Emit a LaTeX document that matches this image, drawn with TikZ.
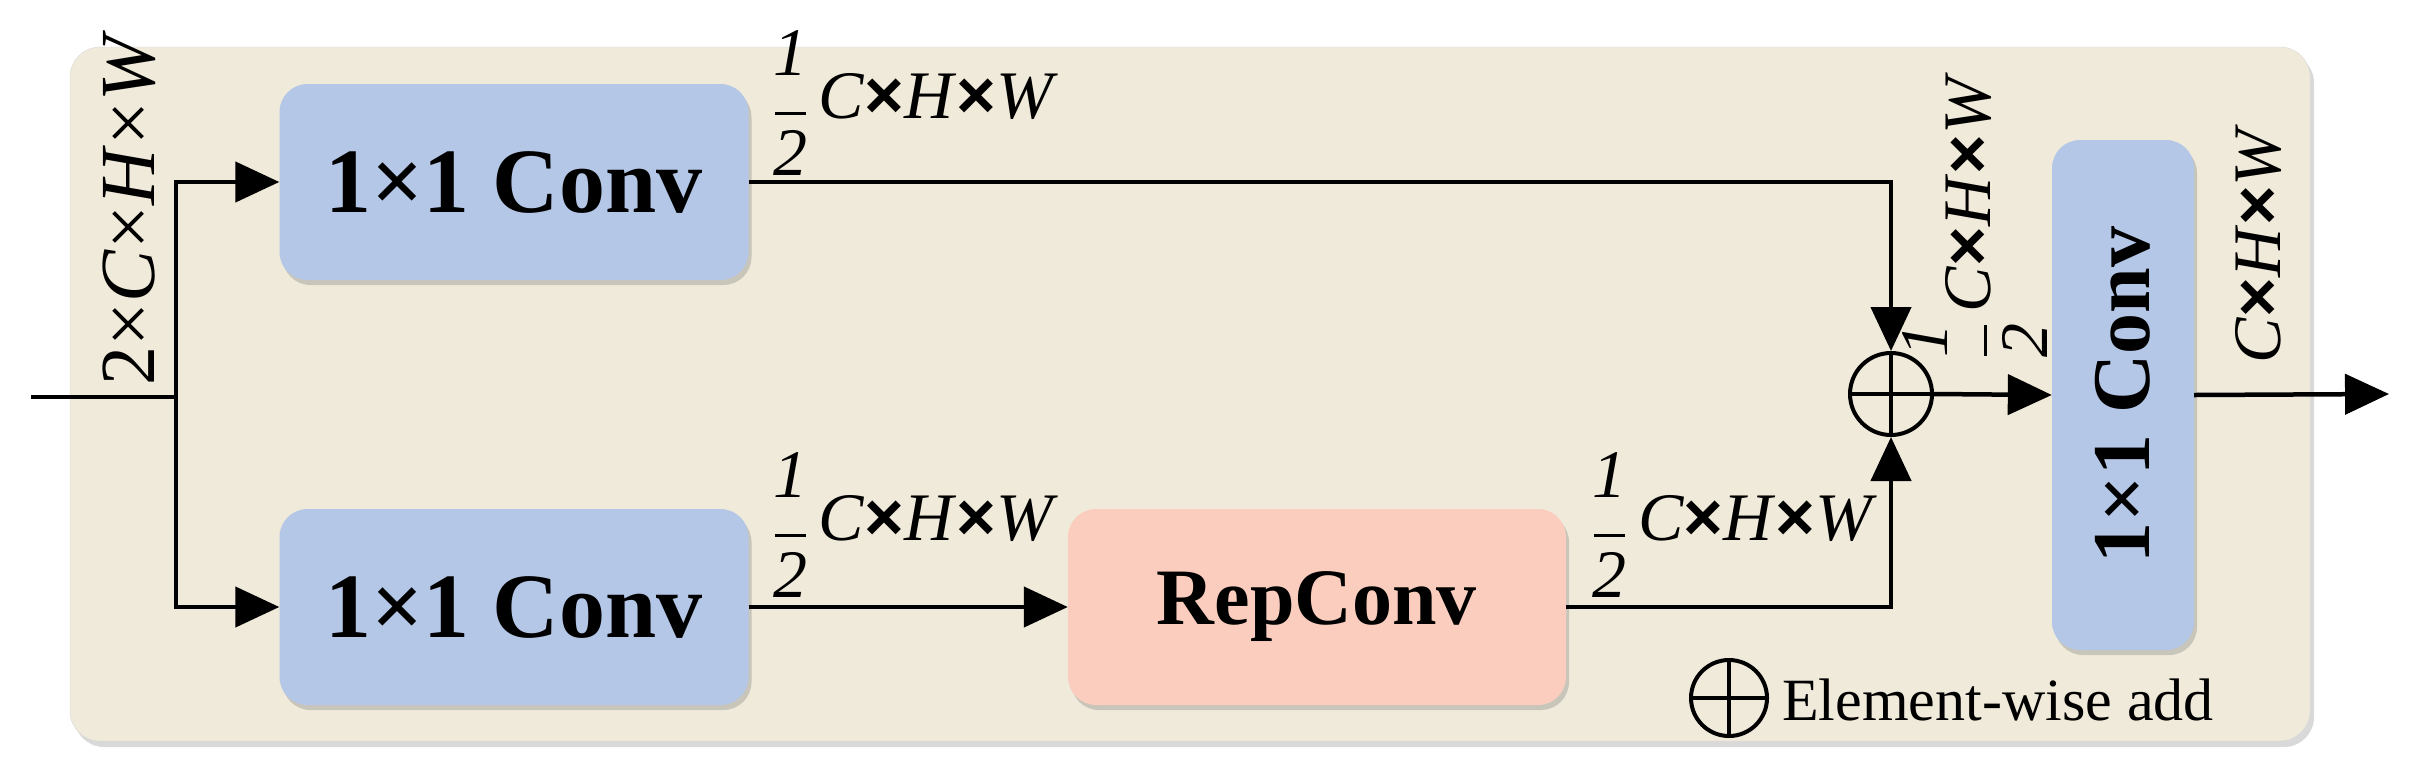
\documentclass[tikz,border=0pt]{standalone}
\usepackage{fontspec}
\setmainfont{Liberation Serif}
\setsansfont{Liberation Sans}
\usetikzlibrary{arrows.meta,shadows}
\newcommand\mytimes{{\sffamily\bfseries ×}}
\newcommand\myhalf{$\vcenter{\hbox{\begin{tabular}{@{}c@{}}\textit{1}\\[-0.42em]\rule{0.45em}{3.5pt}\\[-0.12em]\textit{2}\end{tabular}}}$}
\newcommand\halfchw{\myhalf\,\textit{C}\mytimes\textit{H}\mytimes\textit{W}}
\definecolor{panel}{HTML}{F0EADA}
\definecolor{bluebox}{HTML}{B4C7E7}
\definecolor{pinkbox}{HTML}{FACDBE}
\begin{document}
\begin{tikzpicture}[x=1pt,y=-1pt,
  box/.style={rounded corners=28pt, inner sep=0pt, font=\fontsize{92}{92}\selectfont\bfseries,
    drop shadow={opacity=0.35, shadow xshift=3pt, shadow yshift=-5pt}},
  lbl/.style={inner sep=0pt, font=\fontsize{68}{68}\selectfont},
  arr/.style={line width=4.5pt, -{Triangle[length=44pt,width=40pt]}},
  ln/.style={line width=4.5pt},
  addop/.style={circle, draw, line width=4pt, inner sep=0pt, path picture={
    \draw[line width=4pt] (path picture bounding box.north) -- (path picture bounding box.south)
      (path picture bounding box.west) -- (path picture bounding box.east);}}]
\useasboundingbox (0,0) rectangle (2411,780);
\node[draw=black!15, fill=panel, rounded corners=30pt, minimum width=2240pt, minimum height=694pt,
  drop shadow={opacity=0.3, shadow xshift=4pt, shadow yshift=-6pt}] (panel) at (1190,394) {};
\node[box, fill=bluebox, minimum width=469pt, minimum height=196pt] (c1) at (514,182) {1\texttimes1 Conv};
\node[box, fill=bluebox, minimum width=469pt, minimum height=196pt] (c2) at (514,607) {1\texttimes1 Conv};
\node[box, fill=pinkbox, minimum width=498pt, minimum height=196pt, font=\fontsize{80}{80}\selectfont\bfseries] (rep) at (1317,607) {RepConv};
\node[box, fill=bluebox, minimum width=142pt, minimum height=510pt] (c3) at (2123,395) {};
\node[rotate=90, font=\fontsize{82}{82}\selectfont\bfseries] (c3t) at (2123,395) {1\texttimes1 Conv};
\node[addop, minimum size=82pt] (add) at (1891,394) {};
\coordinate (in) at (31,397);
\coordinate (br) at (176,397);
\coordinate (out) at (2389,394);
\draw[ln] (in) -- (br);
\draw[arr] (br) |- (c1.west);
\draw[arr] (br) |- (c2.west);
\draw[arr] (c1.east) -| (add.north);
\draw[arr] (c2.east) -- (rep.west);
\draw[arr] (rep.east) -| (add.south);
\draw[arr] (add.east) -- (c3.west);
\draw[arr] (c3.east) -- (out);
\node[lbl, rotate=90, font=\fontsize{78}{78}\selectfont] (l0) at (129,208) {2\texttimes\textit{C}\texttimes\textit{H}\texttimes\textit{W}};
\node[lbl] (l1) at (916,112) {\halfchw};
\node[lbl] (l2) at (916,534) {\halfchw};
\node[lbl] (l3) at (1735,534) {\halfchw};
\node[lbl, rotate=90] (l4) at (1984,215) {\halfchw};
\node[lbl, rotate=90] (l5) at (2258,244) {\textit{C}\mytimes\textit{H}\mytimes\textit{W}};
\node[addop, minimum size=76pt] (lg) at (1729,698) {};
\node[lbl, anchor=west, font=\fontsize{60}{60}\selectfont] (lgt) at (1782,700) {Element-wise add};
\end{tikzpicture}
\end{document}
